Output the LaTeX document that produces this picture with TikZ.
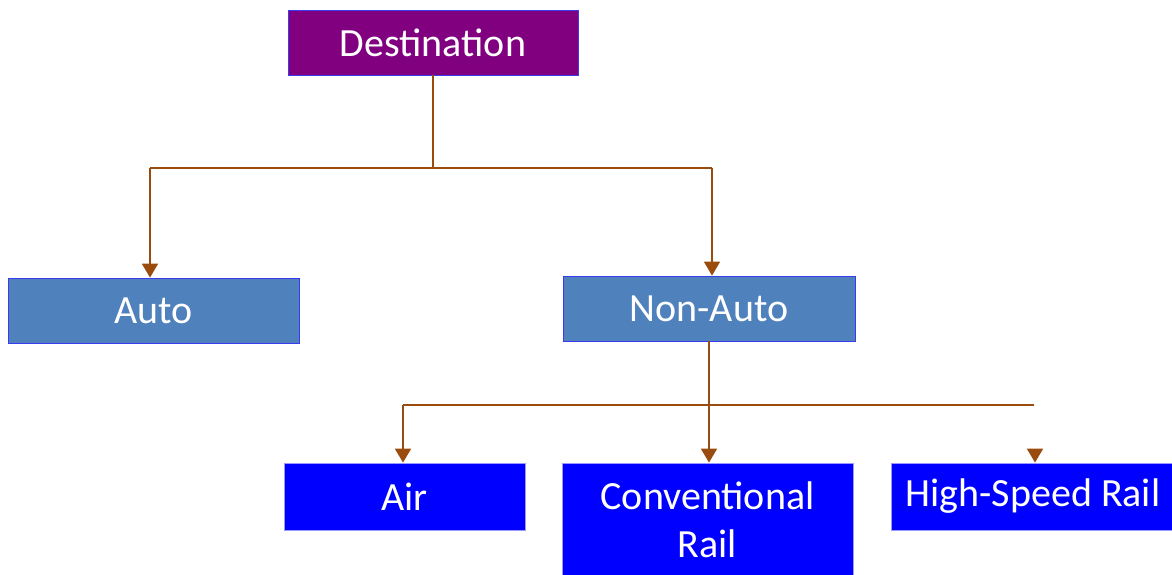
\documentclass[tikz,border=0pt]{standalone}
\usepackage{fontspec}
\setmainfont{Carlito}
\usetikzlibrary{arrows.meta}
\definecolor{dest}{HTML}{800080}
\definecolor{steel}{HTML}{4F81BD}
\definecolor{pureblue}{HTML}{0000FF}
\definecolor{conn}{HTML}{9A4C0E}
\definecolor{edge}{HTML}{3A3AF0}
\tikzset{
  box/.style={draw=edge, line width=0.8pt, text=white, align=center,
    font=\fontsize{40}{48}\selectfont, inner sep=0pt},
  link/.style={draw=conn, line width=1.8pt},
  arr/.style={link, -{Triangle[width=16pt,length=14pt]}},
}
\begin{document}
\begin{tikzpicture}[x=1pt,y=-1pt]
\useasboundingbox (0,0) rectangle (1172,574);
% boxes: corners given in pixel coordinates
\node[box, fill=dest, minimum width=290pt, minimum height=65pt] (dest) at (433,42.5) {Destination};
\node[box, fill=steel, minimum width=291pt, minimum height=65pt] (auto) at (153.5,310.5) {Auto};
\node[box, fill=steel, minimum width=292pt, minimum height=65pt] (nonauto) at (709,308.5) {Non-Auto};
\node[box, fill=pureblue, draw=pureblue!40, minimum width=241pt, minimum height=67pt] (air) at (404.5,496.5) {Air};
\node[box, fill=pureblue, draw=pureblue!40, minimum width=291pt, minimum height=113pt] (conv) at (707.5,519.5) {Conventional\\Rail};
\node[box, fill=pureblue, draw=pureblue!40, minimum width=284pt, minimum height=67pt] (hsr) at (1033,496.5) {High-Speed Rail};
% coordinates
\coordinate (j1) at (433,168);
\coordinate (l1) at (150,168);
\coordinate (r1) at (712,168);
\coordinate (j2) at (709,405);
\coordinate (l2) at (403,405);
\coordinate (r2) at (1034,405);
\coordinate (h2) at (1035,449);
% connectors
\draw[link] (dest.south) -- (j1);
\draw[link] (l1) -- (r1);
\draw[arr] (l1) -- (l1 |- auto.north);
\draw[arr] (r1) -- (r1 |- nonauto.north);
\draw[link] (nonauto.south) -- (j2);
\draw[link] (l2) -- (r2);
\draw[arr] (l2) -- (l2 |- air.north);
\draw[arr] (j2) -- (j2 |- conv.north);
\draw[arr] (h2) -- (h2 |- hsr.north);
\end{tikzpicture}
\end{document}
